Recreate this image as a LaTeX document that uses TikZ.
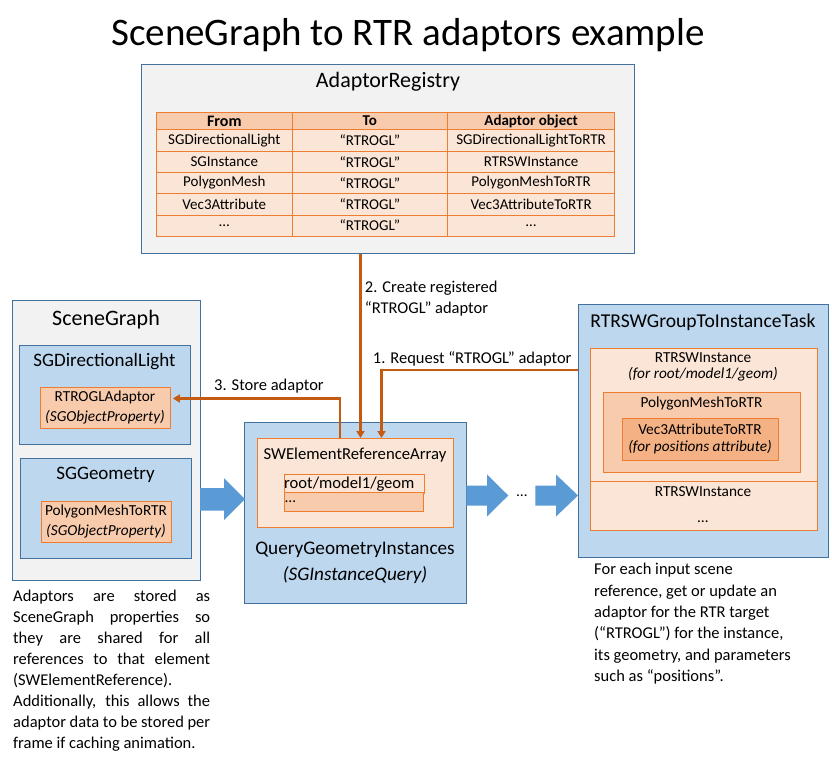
\documentclass[tikz,border=0pt]{standalone}
\usepackage{fontspec}
\setmainfont{Carlito}
\usetikzlibrary{arrows.meta}
\definecolor{boxgray}{HTML}{F2F2F2}
\definecolor{boxblue}{HTML}{BDD7EE}
\definecolor{edgeblue}{HTML}{41719C}
\definecolor{orlight}{HTML}{FBE5D6}
\definecolor{ormid}{HTML}{F8CBAD}
\definecolor{ordark}{HTML}{F4B183}
\definecolor{oredge}{HTML}{ED7D31}
\definecolor{linkcol}{HTML}{C55A11}
\definecolor{arrowblue}{HTML}{5B9BD5}

\tikzset{
  box/.style={anchor=north west, inner sep=0pt, line width=0.9pt},
  graybox/.style={box, draw=edgeblue, fill=boxgray},
  bluebox/.style={box, draw=edgeblue, fill=boxblue},
  obox/.style={box, draw=oredge, fill=#1},
  link/.style={draw=linkcol, line width=2.5pt, -{Triangle[length=7pt,width=8pt]}},
  fat/.style={fill=arrowblue},
  big/.style={font=\fontsize{22}{26}\selectfont, inner sep=0pt},
  head/.style={font=\fontsize{19}{23}\selectfont, inner sep=0pt},
  mid/.style={font=\fontsize{16.5}{20}\selectfont, inner sep=0pt},
  small/.style={font=\fontsize{15.3}{18}\selectfont, inner sep=0pt},
  cell/.style={font=\fontsize{15}{18}\selectfont, inner sep=0pt}
}

\begin{document}
\begin{tikzpicture}[x=1pt, y=-1pt]
    \useasboundingbox[fill=white] (0,0) rectangle (832,770);
    % title
        \node[font=\fontsize{39}{44}\selectfont, inner sep=0pt] (title) at (408,35) {SceneGraph to RTR adaptors example};

    % registry with its table
        \node[graybox, minimum width=493pt, minimum height=189pt] (registry) at (141,64) {};
        \node[big] (regtitle) at (388,82) {AdaptorRegistry};
        \node[obox=ormid, minimum width=135.7pt, minimum height=17.3pt, font=\fontsize{16}{18}\selectfont] (headfrom) at (156,112) {\bfseries From};
        \node[obox=ormid, minimum width=155.3pt, minimum height=17.3pt, cell] (headto) at (291.7,112) {\bfseries To};
        \node[obox=ormid, minimum width=167.3pt, minimum height=17.3pt, cell] (headobj) at (447,112) {\bfseries Adaptor object};
        \foreach \from/\obj [count=\i] in {SGDirectionalLight/SGDirectionalLightToRTR, SGInstance/RTRSWInstance, PolygonMesh/PolygonMeshToRTR, Vec3Attribute/Vec3AttributeToRTR, …/…}
        {
            \node[obox=orlight, minimum width=135.7pt, minimum height=21.3pt, cell] (from\i) at (156,{129.3+21.3*(\i-1)}) {\from};
            \node[obox=orlight, minimum width=155.3pt, minimum height=21.3pt, cell] (to\i) at (291.7,{129.3+21.3*(\i-1)}) {“RTROGL”};
            \node[obox=orlight, minimum width=167.3pt, minimum height=21.3pt, cell] (obj\i) at (447,{129.3+21.3*(\i-1)}) {\obj};
        }

    % scene graph
        \node[graybox, minimum width=188pt, minimum height=280pt] (scenegraph) at (12,300) {};
        \node[big] (sgtitle) at (106,320) {SceneGraph};
        \node[bluebox, minimum width=171pt, minimum height=99pt] (sglight) at (19,345) {};
        \node[head] (sglighttitle) at (104.5,362) {SGDirectionalLight};
        \node[obox=ormid, minimum width=130pt, minimum height=41pt] (rtroglad) at (40,387) {};
        \node[small] (rtrogladname) at (105,397) {RTROGLAdaptor};
        \node[small] (rtrogladtype) at (105,417) {\itshape (SGObjectProperty)};
        \node[bluebox, minimum width=171pt, minimum height=100pt] (sggeom) at (20,458) {};
        \node[head] (sggeomtitle) at (105.5,475) {SGGeometry};
        \node[obox=ormid, minimum width=130pt, minimum height=41pt] (pmprop) at (41,501) {};
        \node[small] (pmpropname) at (106,511) {PolygonMeshToRTR};
        \node[small] (pmproptype) at (106,531) {\itshape (SGObjectProperty)};

    % query
        \node[bluebox, minimum width=222pt, minimum height=181pt] (query) at (244,422) {};
        \node[obox=orlight, minimum width=196pt, minimum height=89pt] (swera) at (257,438) {};
        \node[font=\fontsize{16.7}{20}\selectfont, inner sep=0pt] (sweraname) at (355,455) {SWElementReferenceArray};
        \node[obox=orlight, minimum width=140pt, minimum height=19pt] (rootgeom) at (284,474.3) {};
        \node[font=\fontsize{16.6}{20}\selectfont, inner sep=0pt, anchor=west] (rootgeomname) at (284,484) {root/model1/geom};
        \node[obox=ormid, minimum width=139pt, minimum height=19pt] (moreref) at (284,492.3) {};
        \node[small, anchor=west] (morerefname) at (285,502) {…};
        \node[font=\fontsize{19.2}{23}\selectfont, inner sep=0pt] (queryname) at (355,550) {QueryGeometryInstances};
        \node[font=\fontsize{19.2}{23}\selectfont, inner sep=0pt] (querytype) at (355,575) {\itshape (SGInstanceQuery)};

    % task
        \node[bluebox, minimum width=250pt, minimum height=253pt] (task) at (578,304) {};
        \node[font=\fontsize{19.6}{23}\selectfont, inner sep=0pt] (tasktitle) at (703,322) {RTRSWGroupToInstanceTask};
        \node[obox=orlight, minimum width=226.5pt, minimum height=132.7pt] (inst) at (590.3,348.3) {};
        \node[small] (instname) at (703,357.7) {RTRSWInstance};
        \node[small] (insttype) at (703,374.5) {\itshape (for root/model1/geom)};
        \node[obox=ormid, minimum width=197pt, minimum height=79.7pt] (pmtortr) at (603.3,392.3) {};
        \node[small] (pmtortrname) at (701.5,403.5) {PolygonMeshToRTR};
        \node[obox=ordark, minimum width=156pt, minimum height=41.7pt] (vec) at (622.3,418.3) {};
        \node[small] (vecname) at (700,429) {Vec3AttributeToRTR};
        \node[small] (vectype) at (700,446.7) {\itshape (for positions attribute)};
        \node[obox=orlight, minimum width=226.5pt, minimum height=49.3pt] (inst2) at (590.3,481) {};
        \node[small] (inst2name) at (703,491.7) {RTRSWInstance};
        \node[small] (inst2more) at (703,522) {…};

    % block arrows
        \fill[fat] (200,488) -- (224,488) -- (224,478) -- (245,499) -- (224,520) -- (224,510.5) -- (200,510.5) -- cycle;
        \fill[fat] (466.3,485.7) -- (487,485.7) -- (487,474.5) -- (508.3,495.5) -- (487,516.5) -- (487,505.7) -- (466.3,505.7) -- cycle;
        \node[small] (dots) at (522,496) {…};
        \fill[fat] (535.3,485.7) -- (556,485.7) -- (556,474.5) -- (578,495.5) -- (556,516.5) -- (556,505.7) -- (535.3,505.7) -- cycle;

    % links
        \coordinate (c1) at (381.5,370);
        \coordinate (c2) at (360.5,300);
        \coordinate (c3) at (340,398.5);
        \draw[link] (c2 |- registry.south) -- (c2 |- swera.north);
        \draw[link] (c1 -| task.west) -- (c1) -- (c1 |- swera.north);
        \draw[link, shorten >=2pt] (c3 |- swera.north) -- (c3) -- (c3 -| rtroglad.east);
        \node[anchor=west, align=left, inner sep=0pt, font=\fontsize{16.5}{21.6}\selectfont] (lab2) at (364.7,298.5) {2. Create registered\\“RTROGL” adaptor};
        \node[mid, anchor=west] (lab1) at (372.7,359) {1. Request “RTROGL” adaptor};
        \node[mid, anchor=west] (lab3) at (214,386.5) {3. Store adaptor};

    % notes
        \node[anchor=north west, inner sep=0pt, text width=197pt, align=justify, font=\fontsize{16.5}{21}\selectfont] (leftnote) at (13,590) {Adaptors are stored as\linebreak SceneGraph properties so\linebreak they are shared for all\linebreak references to that element\linebreak (SWElementReference).\\ Additionally, this allows the\linebreak adaptor data to be stored per\linebreak frame if caching animation.};
        \node[anchor=north west, inner sep=0pt, align=left, font=\fontsize{16.5}{21.4}\selectfont] (rightnote) at (594,563) {For each input scene\\reference, get or update an\\adaptor for the RTR target\\(“RTROGL”) for the instance,\\its geometry, and parameters\\such as “positions”.};
\end{tikzpicture}
\end{document}
